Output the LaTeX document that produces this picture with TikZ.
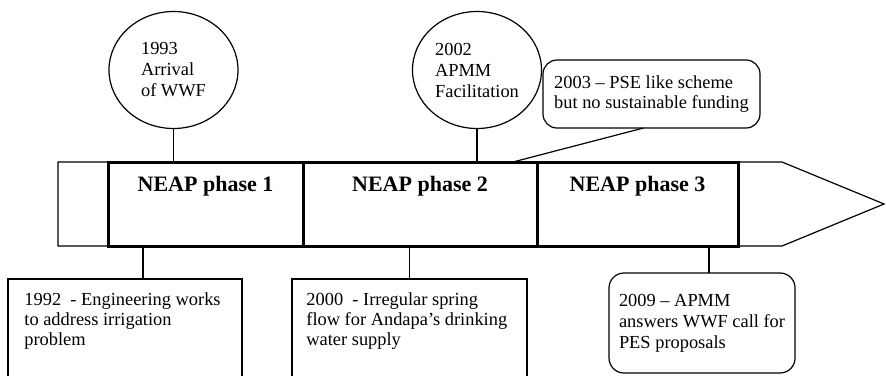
\documentclass[tikz,border=0pt]{standalone}
\usepackage{fontspec}
\setmainfont{Liberation Serif}
\usetikzlibrary{shapes.geometric, positioning, calc}

\begin{document}
\begin{tikzpicture}[
        x=0.5pt, y=-0.5pt,
        timeline/.style={draw=black, line width=0.6pt},
        phasebox/.style={rectangle, draw=black, line width=1.5pt, outer sep=0pt, inner sep=0pt, minimum height=42pt},
        phasetitle/.style={font=\fontsize{11}{13}\selectfont\bfseries, inner sep=0pt},
        milestone/.style={ellipse, draw=black, line width=0.6pt, minimum width=64.5pt, minimum height=58.5pt, align=left, font=\fontsize{9.2}{10.5}\selectfont, inner sep=0pt},
        callout/.style={rectangle, rounded corners=7pt, draw=black, line width=0.6pt, outer sep=0pt, align=left, font=\fontsize{9.2}{10}\selectfont},
        eventbox/.style={rectangle, draw=black, line width=0.6pt, outer sep=0pt, anchor=north west},
        eventtext/.style={align=left, font=\fontsize{9.2}{10}\selectfont, inner sep=0pt, anchor=north west},
        link/.style={draw=black, line width=0.6pt}
    ]
        \useasboundingbox (0,0) rectangle (886,375);
        \clip (0,0) rectangle (886,375);

        % timeline arrow
        \draw[timeline] (58,162) -- (782,162) -- (884,204) -- (782,246) -- (58,246) -- cycle;

        \node[phasebox, minimum width=97.5pt] (p1) at (205.5,204) {};
        \node[phasebox, minimum width=117pt, right=0pt of p1] (p2) {};
        \node[phasebox, minimum width=100.5pt, right=0pt of p2] (p3) {};
        \node[phasetitle, below=7pt of p1.north] (p1t) {NEAP phase 1};
        \node[phasetitle, below=7pt of p2.north] (p2t) {NEAP phase 2};
        \node[phasetitle, below=7pt of p3.north] (p3t) {NEAP phase 3};

        % above the line
        \node[milestone] (c1) at (173.5,70) {1993\\Arrival\\of WWF};
        \node[milestone] (c2) at (477,70) {2002\\APMM\\Facilitation};
        \node[callout, minimum width=108.5pt, minimum height=34pt] (note) at (651.5,94) {2003 – PSE like scheme\\but no sustainable funding};
        \coordinate (n2) at (513,162);

        \draw[link] (c1.south) -- (c1.south |- p1.north);
        \draw[link] (c2.south) -- (c2.south |- p2.north);
        \draw[link] ($(note.south)+(-8,0)$) -- (n2);

        % below the line
        \node[eventbox, minimum width=117pt, minimum height=65pt] (e1) at (8,279) {};
        \node[eventbox, minimum width=117.5pt, minimum height=65pt] (e2) at (292,279) {};
        \node[eventbox, rounded corners=7.5pt, minimum width=92pt, minimum height=50pt, inner sep=5pt, align=left, font=\fontsize{9.2}{10.5}\selectfont] (e3) at (609,273) {2009 – APMM\\answers WWF call for\\PES proposals};
        \node[eventtext] (e1t) at (24,292) {1992\ \ - Engineering works\\to address irrigation\\problem};
        \node[eventtext] (e2t) at (306,292) {2000\ \ - Irregular spring\\flow for Andapa's drinking\\water supply};

        \coordinate (b1) at (143,246);
        \coordinate (b3) at (709,246);
        \draw[link] (b1) -- (b1 |- e1.north);
        \draw[link] (e2.north |- p2.south) -- (e2.north);
        \draw[link] (b3) -- (b3 |- e3.north);
    \end{tikzpicture}
\end{document}
